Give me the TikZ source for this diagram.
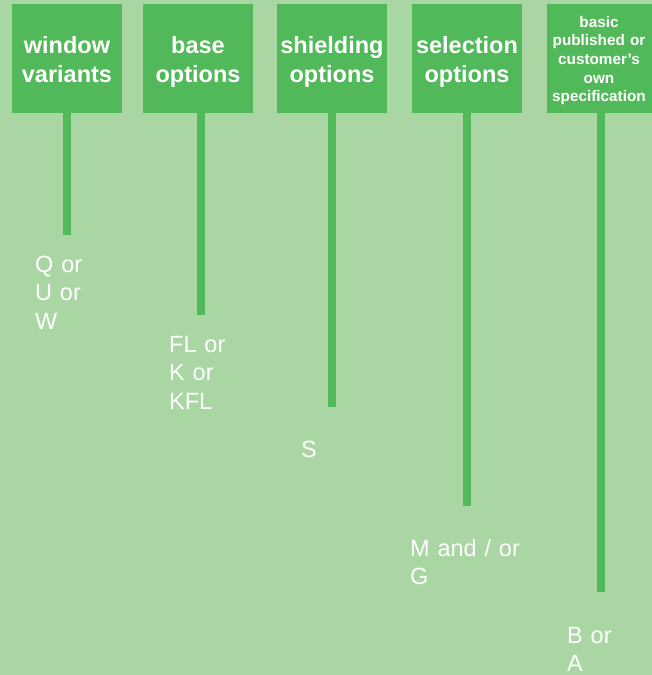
\documentclass[tikz,border=0pt]{standalone}
\usepackage{fontspec}
\setmainfont{Liberation Sans}
\usetikzlibrary{positioning}
\definecolor{bggreen}{RGB}{170,214,164}
\definecolor{boxgreen}{RGB}{82,185,90}

\begin{document}
\begin{tikzpicture}[x=1pt,y=-1pt,
  head/.style={fill=boxgreen,minimum width=110pt,minimum height=109pt,inner sep=0pt},
  headtxt/.style={text=white,font=\bfseries\fontsize{23.5}{29}\selectfont,text width=110pt,align=center,inner sep=0pt,anchor=base},
  smalltxt/.style={headtxt,font=\bfseries\fontsize{15.3}{18.7}\selectfont},
  stem/.style={draw=boxgreen,line width=8pt},
  code/.style={text=white,font=\fontsize{23.5}{28.5}\selectfont,text width=130pt,align=left,inner sep=0pt,anchor=base west}]
\fill[bggreen] (0,0) rectangle (652,675);
\useasboundingbox (0,0) rectangle (652,675);
% header boxes
\node[head] (win) at (67,58.5) {};
\node[head] (base) at (198,58.5) {};
\node[head] (shield) at (332,58.5) {};
\node[head] (sel) at (467,58.5) {};
\node[head] (spec) at (602,58.5) {};
\node[headtxt] (wintxt) at (67,53) {window\\variants};
\node[headtxt] (basetxt) at (198,53) {base\\options};
\node[headtxt] (shieldtxt) at (332,53) {shielding\\options};
\node[headtxt] (seltxt) at (467,53) {selection\\options};
\node[smalltxt] (spectxt) at (599,27) {basic\\published or\\customer's\\own\\specification};
% stems
\coordinate (winend) at (67.3,235);
\coordinate (baseend) at (200.5,315);
\coordinate (shieldend) at (332,407);
\coordinate (selend) at (467,506);
\coordinate (specend) at (601,592);
\draw[stem] (win.south -| winend) -- (winend);
\draw[stem] (base.south -| baseend) -- (baseend);
\draw[stem] (shield.south -| shieldend) -- (shieldend);
\draw[stem] (sel.south -| selend) -- (selend);
\draw[stem] (spec.south -| specend) -- (specend);
% codes
\node[code] (wincode) at (35,272) {Q or\\U or\\W};
\node[code] (basecode) at (169,352) {FL or\\K or\\KFL};
\node[code] (shieldcode) at (301,457) {S};
\node[code] (selcode) at (410,556) {M and / or\\G};
\node[code] (speccode) at (567,643) {B or\\A};
\end{tikzpicture}
\end{document}
